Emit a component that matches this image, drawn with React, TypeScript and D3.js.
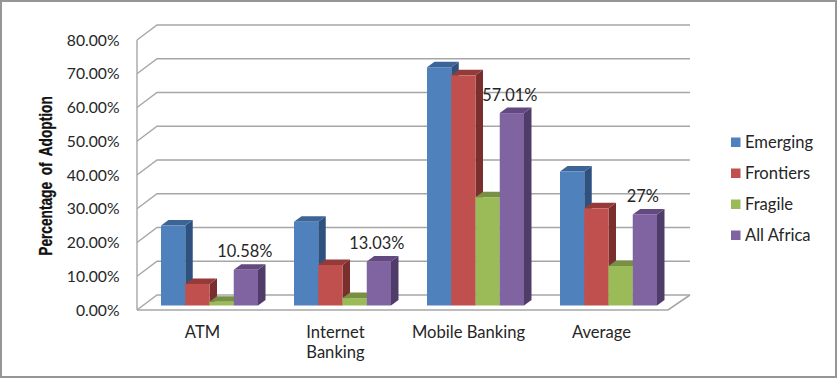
import React from "react";
import * as d3 from "d3";

const categories = ["ATM", "Internet Banking", "Mobile Banking", "Average"];
const seriesNames = ["Emerging", "Frontiers", "Fragile", "All Africa"];
const emerging = [23.7, 24.8, 70.6, 39.7];
const frontiers = [6.4, 12, 68.2, 28.8];
const fragile = [1.1, 2.2, 32.1, 11.7];
const allAfrica = [10.58, 13.03, 57.01, 27];
const dataLabels = ["10.58%", "13.03%", "57.01%", "27%"];
const ticks = [0, 10, 20, 30, 40, 50, 60, 70, 80];
const faces = [
  { front: "#4f81bd", top: "#3c6496", side: "#2f5180" },
  { front: "#c0504d", top: "#943a38", side: "#7a2e2d" },
  { front: "#9bbb59", top: "#779043", side: "#617536" },
  { front: "#8064a2", top: "#62497f", side: "#503c68" },
];

const W = 837, H = 378;
const font = "Lato, Carlito, 'Open Sans', sans-serif";
const grid = "#a6a6a6";
const text = "#262626";

export default function App() {
  const series = [emerging, frontiers, fragile, allAfrica];
  const y = d3.scaleLinear().domain([0, 80]).range([310, 40]);
  const baseLift = 4.5;
  const wallDx = 20, wallDy = 15;
  const dx = 7.5, dy = 5.5;
  const x0 = d3.scaleBand<string>().domain(categories).range([137.5, 680.5]).paddingInner(0.2707).paddingOuter(0.1767);
  const x1 = d3.scaleBand<string>().domain(seriesNames).range([0, x0.bandwidth()]);
  const catCenter = (c: string) => (x0(c) as number) + x0.bandwidth() / 2;
  return (
    <svg width={W} height={H} viewBox={`0 0 ${W} ${H}`} style={{ position: "fixed", left: 0, top: 0, background: "#fff" }}>
      <rect x={1} y={1} width={W - 2} height={H - 2} fill="#fff" stroke="#969696" strokeWidth={2} />
      {ticks.map((t) => (
        <g key={t} fill="none" stroke={grid} strokeWidth={1.4}>
          <polyline points={`137,${y(t)} ${137 + wallDx},${y(t) - wallDy} 690,${y(t) - wallDy}`} />
        </g>
      ))}
      <line x1={137} x2={137} y1={y(80)} y2={y(0)} stroke={grid} strokeWidth={1.4} />
      <polyline points={`137,${y(0)} 668,${y(0)} 690,${y(0) - wallDy}`} fill="none" stroke={grid} strokeWidth={1.6} />
      {ticks.map((t) => (
        <text key={t} x={119.5} y={y(t)} dy="0.36em" textAnchor="end" fontFamily={font} fontSize={15.7} fill={text}>
          {t.toFixed(2)}%
        </text>
      ))}
      <text
        transform="translate(52,176) rotate(-90) scale(0.72,1)"
        textAnchor="middle"
        fontFamily="'Liberation Sans Narrow','Liberation Sans',sans-serif"
        fontWeight={700}
        fontSize={19}
        wordSpacing={4}
        stroke="#111"
        strokeWidth={0.3}
        fill="#111"
      >
        Percentage of Adoption
      </text>
      {categories.map((c, ci) => (
        <g key={c}>
          {seriesNames.map((s, si) => {
            const v = series[si][ci];
            const bx = (x0(c) as number) + (x1(s) as number);
            const w = x1.bandwidth();
            const base = y(0) - baseLift;
            const top = y(v) - baseLift;
            return (
              <g key={s}>
                <polygon fill={faces[si].side} points={`${bx + w},${top} ${bx + w + dx},${top - dy} ${bx + w + dx},${base - dy} ${bx + w},${base}`} />
                <polygon fill={faces[si].top} points={`${bx},${top} ${bx + dx},${top - dy} ${bx + w + dx},${top - dy} ${bx + w},${top}`} />
                <rect x={bx} y={top} width={w} height={base - top} fill={faces[si].front} />
              </g>
            );
          })}
        </g>
      ))}
      {categories.map((c, ci) => {
        const bx = (x0(c) as number) + (x1("All Africa") as number);
        const top = y(allAfrica[ci]) - baseLift;
        const cx = bx + x1.bandwidth() / 2 + [-1, -2, -2, -2][ci];
        return (
          <text key={c} x={cx} y={top - 12.5} textAnchor="middle" fontFamily={font} fontSize={16.4} fill={text}>
            {dataLabels[ci]}
          </text>
        );
      })}
      {categories.map((c) => {
        const lines = c === "Internet Banking" ? ["Internet", "Banking"] : [c];
        return (
          <text key={c} textAnchor="middle" fontFamily={font} fontSize={16.6} fill={text}>
            {lines.map((l, i) => (
              <tspan key={l} x={catCenter(c) - 7} y={337.5 + i * 20}>{l}</tspan>
            ))}
          </text>
        );
      })}
      {seriesNames.map((s, i) => (
        <g key={s}>
          <rect x={731} y={137.5 + i * 31} width={9.5} height={9.5} fill={faces[i].front} />
          <text x={745} y={142 + i * 31} dy="0.36em" fontFamily={font} fontSize={16.6} fill={text}>{s}</text>
        </g>
      ))}
    </svg>
  );
}
